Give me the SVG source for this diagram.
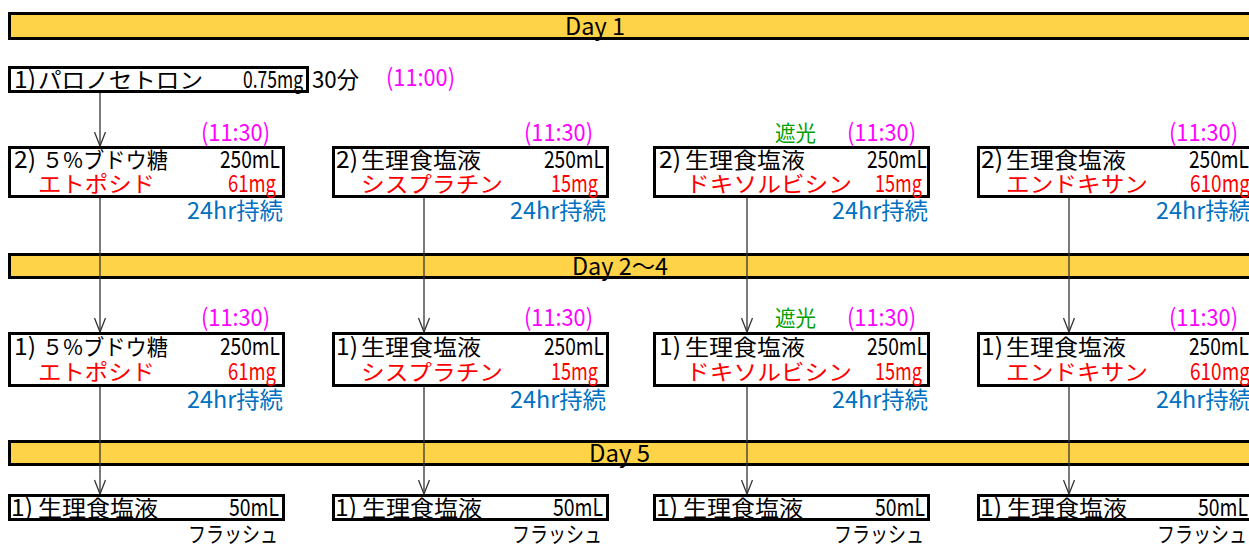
<svg xmlns="http://www.w3.org/2000/svg" width="1249" height="545" viewBox="0 0 1249 545">
<defs>
<style>
text{font-family:"Noto Sans CJK JP","Noto Sans CJK SC",sans-serif;font-size:22px;}
text.l{font-size:24px}
text.x{font-size:23px}
.k{fill:#000}
.r{fill:#FF0000}
.m{fill:#FF00FF}
.b{fill:#0070C0}
.g{fill:#00A000}
.bar{fill:#FFD347;stroke:#000;stroke-width:3}
.box{fill:#fff;stroke:#000;stroke-width:3}
.c{stroke:#333;stroke-width:1.3;fill:none;marker-end:url(#v)}
</style>
<marker id="v" viewBox="0 0 16 12" refX="15" refY="6" markerWidth="16" markerHeight="12" markerUnits="userSpaceOnUse" orient="auto">
<path d="M1,0.5 L15,6 L1,11.5" fill="none" stroke="#333" stroke-width="1.3"/>
</marker>
</defs>

<g id="day1">
<rect class="bar" x="9.5" y="13.5" width="1260" height="25"/>
<text class="k l" x="565" y="35" textLength="60" lengthAdjust="spacingAndGlyphs">Day 1</text>
</g>
<g id="day2-4">
<rect class="bar" x="9.5" y="254.5" width="1260" height="23"/>
<text class="k l" x="572" y="275" textLength="96" lengthAdjust="spacingAndGlyphs">Day 2～4</text>
</g>
<g id="day5">
<rect class="bar" x="9.5" y="441.5" width="1260" height="23"/>
<text class="k l" x="589" y="462" textLength="61" lengthAdjust="spacingAndGlyphs">Day 5</text>
</g>

<g id="n0">
<rect class="box" x="9.5" y="67.5" width="298" height="24"/>
<text class="k l" x="14" y="88" textLength="22" lengthAdjust="spacingAndGlyphs">1)</text>
<text class="k" x="38" y="88" textLength="165" lengthAdjust="spacingAndGlyphs">パロノセトロン</text>
<text class="k l" x="243" y="88" textLength="60" lengthAdjust="spacingAndGlyphs">0.75mg</text>
<text class="k x" x="312" y="88" textLength="47" lengthAdjust="spacingAndGlyphs">30分</text>
<text class="m l" x="386" y="86" textLength="69" lengthAdjust="spacingAndGlyphs">(11:00)</text>
</g>

<g id="connectors">
<path class="c" d="M100,93 V146"/>
<path class="c" d="M100,198 V332"/>
<path class="c" d="M100,387 V494"/>
<path class="c" d="M424,198 V332"/>
<path class="c" d="M424,387 V494"/>
<path class="c" d="M747,198 V332"/>
<path class="c" d="M747,387 V494"/>
<path class="c" d="M1069,198 V332"/>
<path class="c" d="M1069,387 V494"/>
</g>

<!-- Row 1 (Day 1) -->
<g id="r1c1">
<rect class="box" x="9.5" y="147.5" width="274" height="49"/>
<text class="m l" x="201" y="141" textLength="69" lengthAdjust="spacingAndGlyphs">(11:30)</text>
<text class="k l" x="14" y="168" textLength="22" lengthAdjust="spacingAndGlyphs">2)</text>
<text class="k" x="42" y="168" textLength="126" lengthAdjust="spacingAndGlyphs">５%ブドウ糖</text>
<text class="k l" x="220" y="168" textLength="60" lengthAdjust="spacingAndGlyphs">250mL</text>
<text class="r" x="38" y="192" textLength="117" lengthAdjust="spacingAndGlyphs">エトポシド</text>
<text class="r l" x="228" y="192" textLength="48" lengthAdjust="spacingAndGlyphs">61mg</text>
<text class="b x" x="187" y="219" textLength="96" lengthAdjust="spacingAndGlyphs">24hr持続</text>
</g>
<g id="r1c2">
<rect class="box" x="333.5" y="147.5" width="274" height="49"/>
<text class="m l" x="524" y="141" textLength="69" lengthAdjust="spacingAndGlyphs">(11:30)</text>
<text class="k l" x="336" y="168" textLength="22" lengthAdjust="spacingAndGlyphs">2)</text>
<text class="k" x="361" y="168" textLength="120" lengthAdjust="spacingAndGlyphs">生理食塩液</text>
<text class="k l" x="544" y="168" textLength="60" lengthAdjust="spacingAndGlyphs">250mL</text>
<text class="r" x="361" y="192" textLength="142" lengthAdjust="spacingAndGlyphs">シスプラチン</text>
<text class="r l" x="551" y="192" textLength="47" lengthAdjust="spacingAndGlyphs">15mg</text>
<text class="b x" x="510" y="219" textLength="96" lengthAdjust="spacingAndGlyphs">24hr持続</text>
</g>
<g id="r1c3">
<rect class="box" x="654.5" y="147.5" width="274" height="49"/>
<text class="g" x="775" y="141" textLength="41" lengthAdjust="spacingAndGlyphs">遮光</text>
<text class="m l" x="847" y="141" textLength="69" lengthAdjust="spacingAndGlyphs">(11:30)</text>
<text class="k l" x="659" y="168" textLength="22" lengthAdjust="spacingAndGlyphs">2)</text>
<text class="k" x="685" y="168" textLength="120" lengthAdjust="spacingAndGlyphs">生理食塩液</text>
<text class="k l" x="867" y="168" textLength="60" lengthAdjust="spacingAndGlyphs">250mL</text>
<text class="r" x="686" y="192" textLength="166" lengthAdjust="spacingAndGlyphs">ドキソルビシン</text>
<text class="r l" x="875" y="192" textLength="47" lengthAdjust="spacingAndGlyphs">15mg</text>
<text class="b x" x="832" y="219" textLength="96" lengthAdjust="spacingAndGlyphs">24hr持続</text>
</g>
<g id="r1c4">
<rect class="box" x="978.5" y="147.5" width="274" height="49"/>
<text class="m l" x="1169" y="141" textLength="69" lengthAdjust="spacingAndGlyphs">(11:30)</text>
<text class="k l" x="981" y="168" textLength="22" lengthAdjust="spacingAndGlyphs">2)</text>
<text class="k" x="1006" y="168" textLength="120" lengthAdjust="spacingAndGlyphs">生理食塩液</text>
<text class="k l" x="1189" y="168" textLength="60" lengthAdjust="spacingAndGlyphs">250mL</text>
<text class="r" x="1006" y="192" textLength="142" lengthAdjust="spacingAndGlyphs">エンドキサン</text>
<text class="r l" x="1190" y="192" textLength="60" lengthAdjust="spacingAndGlyphs">610mg</text>
<text class="b x" x="1156" y="219" textLength="96" lengthAdjust="spacingAndGlyphs">24hr持続</text>
</g>

<!-- Row 2 (Day 2-4) -->
<g id="r2c1">
<rect class="box" x="9.5" y="333.5" width="274" height="52"/>
<text class="m l" x="201" y="326" textLength="69" lengthAdjust="spacingAndGlyphs">(11:30)</text>
<text class="k l" x="14" y="355" textLength="22" lengthAdjust="spacingAndGlyphs">1)</text>
<text class="k" x="42" y="355" textLength="126" lengthAdjust="spacingAndGlyphs">５%ブドウ糖</text>
<text class="k l" x="220" y="355" textLength="60" lengthAdjust="spacingAndGlyphs">250mL</text>
<text class="r" x="38" y="380" textLength="117" lengthAdjust="spacingAndGlyphs">エトポシド</text>
<text class="r l" x="228" y="380" textLength="48" lengthAdjust="spacingAndGlyphs">61mg</text>
<text class="b x" x="187" y="408" textLength="96" lengthAdjust="spacingAndGlyphs">24hr持続</text>
</g>
<g id="r2c2">
<rect class="box" x="333.5" y="333.5" width="274" height="52"/>
<text class="m l" x="524" y="326" textLength="69" lengthAdjust="spacingAndGlyphs">(11:30)</text>
<text class="k l" x="336" y="355" textLength="22" lengthAdjust="spacingAndGlyphs">1)</text>
<text class="k" x="361" y="355" textLength="120" lengthAdjust="spacingAndGlyphs">生理食塩液</text>
<text class="k l" x="544" y="355" textLength="60" lengthAdjust="spacingAndGlyphs">250mL</text>
<text class="r" x="361" y="380" textLength="142" lengthAdjust="spacingAndGlyphs">シスプラチン</text>
<text class="r l" x="551" y="380" textLength="47" lengthAdjust="spacingAndGlyphs">15mg</text>
<text class="b x" x="510" y="408" textLength="96" lengthAdjust="spacingAndGlyphs">24hr持続</text>
</g>
<g id="r2c3">
<rect class="box" x="654.5" y="333.5" width="274" height="52"/>
<text class="g" x="775" y="326" textLength="41" lengthAdjust="spacingAndGlyphs">遮光</text>
<text class="m l" x="847" y="326" textLength="69" lengthAdjust="spacingAndGlyphs">(11:30)</text>
<text class="k l" x="659" y="355" textLength="22" lengthAdjust="spacingAndGlyphs">1)</text>
<text class="k" x="685" y="355" textLength="120" lengthAdjust="spacingAndGlyphs">生理食塩液</text>
<text class="k l" x="867" y="355" textLength="60" lengthAdjust="spacingAndGlyphs">250mL</text>
<text class="r" x="686" y="380" textLength="166" lengthAdjust="spacingAndGlyphs">ドキソルビシン</text>
<text class="r l" x="875" y="380" textLength="47" lengthAdjust="spacingAndGlyphs">15mg</text>
<text class="b x" x="832" y="408" textLength="96" lengthAdjust="spacingAndGlyphs">24hr持続</text>
</g>
<g id="r2c4">
<rect class="box" x="978.5" y="333.5" width="274" height="52"/>
<text class="m l" x="1169" y="326" textLength="69" lengthAdjust="spacingAndGlyphs">(11:30)</text>
<text class="k l" x="981" y="355" textLength="22" lengthAdjust="spacingAndGlyphs">1)</text>
<text class="k" x="1006" y="355" textLength="120" lengthAdjust="spacingAndGlyphs">生理食塩液</text>
<text class="k l" x="1189" y="355" textLength="60" lengthAdjust="spacingAndGlyphs">250mL</text>
<text class="r" x="1006" y="380" textLength="142" lengthAdjust="spacingAndGlyphs">エンドキサン</text>
<text class="r l" x="1190" y="380" textLength="60" lengthAdjust="spacingAndGlyphs">610mg</text>
<text class="b x" x="1156" y="408" textLength="96" lengthAdjust="spacingAndGlyphs">24hr持続</text>
</g>

<!-- Row 3 (Day 5) -->
<g id="r3c1">
<rect class="box" x="9.5" y="495.5" width="274" height="24"/>
<text class="k l" x="11" y="516" textLength="22" lengthAdjust="spacingAndGlyphs">1)</text>
<text class="k" x="38" y="516" textLength="120" lengthAdjust="spacingAndGlyphs">生理食塩液</text>
<text class="k l" x="229" y="516" textLength="50" lengthAdjust="spacingAndGlyphs">50mL</text>
<text class="k" x="188" y="542" textLength="90" lengthAdjust="spacingAndGlyphs">フラッシュ</text>
</g>
<g id="r3c2">
<rect class="box" x="333.5" y="495.5" width="274" height="24"/>
<text class="k l" x="335" y="516" textLength="22" lengthAdjust="spacingAndGlyphs">1)</text>
<text class="k" x="362" y="516" textLength="120" lengthAdjust="spacingAndGlyphs">生理食塩液</text>
<text class="k l" x="553" y="516" textLength="50" lengthAdjust="spacingAndGlyphs">50mL</text>
<text class="k" x="512" y="542" textLength="90" lengthAdjust="spacingAndGlyphs">フラッシュ</text>
</g>
<g id="r3c3">
<rect class="box" x="654.5" y="495.5" width="274" height="24"/>
<text class="k l" x="656" y="516" textLength="22" lengthAdjust="spacingAndGlyphs">1)</text>
<text class="k" x="683" y="516" textLength="120" lengthAdjust="spacingAndGlyphs">生理食塩液</text>
<text class="k l" x="875" y="516" textLength="50" lengthAdjust="spacingAndGlyphs">50mL</text>
<text class="k" x="834" y="542" textLength="90" lengthAdjust="spacingAndGlyphs">フラッシュ</text>
</g>
<g id="r3c4">
<rect class="box" x="978.5" y="495.5" width="274" height="24"/>
<text class="k l" x="980" y="516" textLength="22" lengthAdjust="spacingAndGlyphs">1)</text>
<text class="k" x="1007" y="516" textLength="120" lengthAdjust="spacingAndGlyphs">生理食塩液</text>
<text class="k l" x="1198" y="516" textLength="50" lengthAdjust="spacingAndGlyphs">50mL</text>
<text class="k" x="1157" y="542" textLength="90" lengthAdjust="spacingAndGlyphs">フラッシュ</text>
</g>
</svg>
